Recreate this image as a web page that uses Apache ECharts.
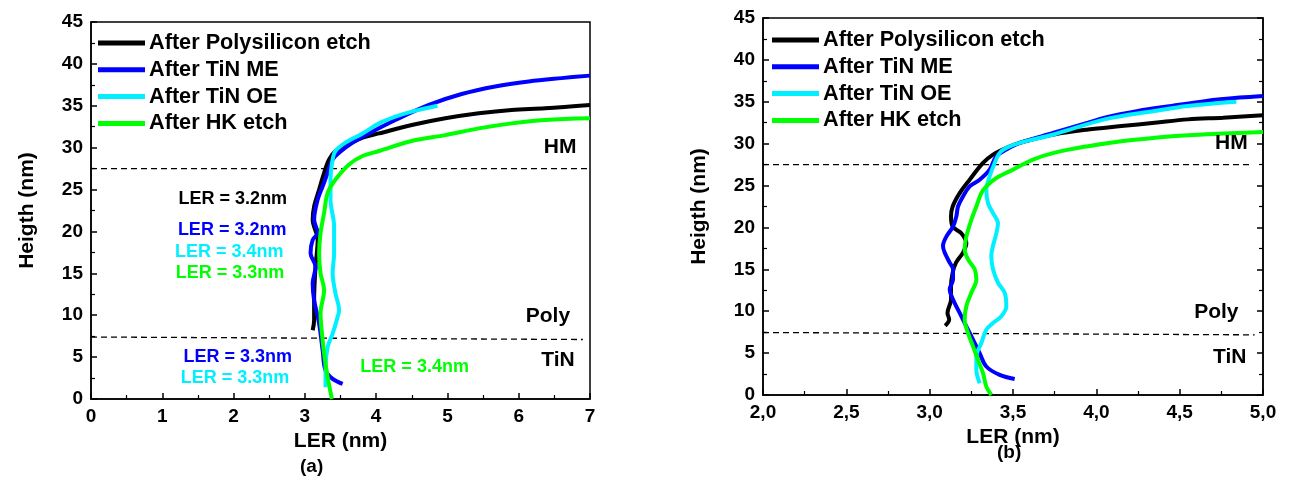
<!DOCTYPE html>
<html><head><meta charset="utf-8">
<script src="https://cdn.jsdelivr.net/npm/echarts@6/dist/echarts.min.js"></script>
<style>html,body{margin:0;padding:0;background:#fff}#c{width:1290px;height:483px}</style>
</head><body><div id="c"></div>
<script>
const seriesNames = ['After Polysilicon etch','After TiN ME','After TiN OE','After HK etch'];
const seriesColors = ['#000000','#0000FF','#00F0FF','#00FF00'];

// Panel (a)
const blackA = [[3.11,8.2],[3.13,9.4],[3.13,11.8],[3.15,15.8],[3.18,19],[3.11,21.4],[3.13,23],[3.20,25],[3.27,27],[3.34,28.6],[3.43,29.6],[3.57,30.2],[3.81,31.2],[4.04,31.7],[4.5,32.7],[4.97,33.5],[5.44,34.1],[5.9,34.5],[6.37,34.7],[7,35.1]];
const blueA = [[3.53,1.8],[3.39,2.4],[3.29,3.4],[3.25,5.8],[3.2,9],[3.13,11.8],[3.11,13.8],[3.15,15.8],[3.08,17.4],[3.11,19],[3.18,19.8],[3.13,21.4],[3.18,23.8],[3.25,25.4],[3.32,27],[3.39,28.6],[3.48,29.4],[3.67,30.6],[3.9,31.7],[4.27,33.3],[4.74,35.1],[5.2,36.4],[5.67,37.3],[6.14,37.9],[6.6,38.3],[7,38.6]];
const cyanA = [[3.29,1.4],[3.29,3.8],[3.32,6.2],[3.39,7.8],[3.46,9.8],[3.48,10.6],[3.43,12.6],[3.39,15],[3.41,17.4],[3.41,20.6],[3.36,23.8],[3.36,26.2],[3.39,28.6],[3.43,29.6],[3.57,30.6],[3.81,31.7],[4.04,32.9],[4.27,33.7],[4.5,34.3],[4.86,35]];
const greenA = [[3.38,0],[3.32,2.6],[3.27,5.4],[3.24,7.8],[3.22,10.2],[3.27,13],[3.22,15],[3.2,17.4],[3.22,19.8],[3.27,22.2],[3.32,24.6],[3.43,26.2],[3.62,28],[3.81,29],[4.04,29.6],[4.5,30.8],[4.97,31.5],[5.44,32.3],[5.9,32.9],[6.37,33.3],[7,33.5]];
const dashTopA = [[0,27.5],[7,27.5]];
const dashLowA = [[0,7.4],[6.9,7.1]];
// annotations: [x, y, text, colorIndex]
const notesA = [[1.99,23.9,'LER = 3.2nm',0],[1.98,20.2,'LER = 3.2nm',1],[1.94,17.6,'LER = 3.4nm',2],[1.95,15.0,'LER = 3.3nm',3],[2.06,5.0,'LER = 3.3nm',1],[2.02,2.5,'LER = 3.3nm',2],[4.54,3.8,'LER = 3.4nm',3]];
const regionsA = [[6.58,30,'HM'],[6.41,9.9,'Poly'],[6.55,4.6,'TiN']];
const xTicksA = ['0','1','2','3','4','5','6','7'];

// Panel (b)
const blackB = [[3.093,8.26],[3.117,9],[3.107,9.8],[3.128,11.4],[3.128,13],[3.138,14.6],[3.158,15.8],[3.2,17],[3.22,18.1],[3.19,19.3],[3.138,20.1],[3.128,21.3],[3.138,22.5],[3.18,24.1],[3.24,25.7],[3.32,27.7],[3.38,28.7],[3.46,29.5],[3.54,30.1],[3.745,31.1],[3.95,31.7],[4.15,32.1],[4.35,32.5],[4.55,32.9],[4.76,33.1],[5,33.4]];
const blueB = [[3.51,1.9],[3.42,2.4],[3.34,3.4],[3.30,5.0],[3.26,6.6],[3.22,8.2],[3.18,9.8],[3.14,11.4],[3.12,12.6],[3.14,13.8],[3.14,15],[3.12,15.8],[3.09,17],[3.08,17.8],[3.10,18.9],[3.14,20.1],[3.16,21.3],[3.17,22.5],[3.2,23.7],[3.24,24.9],[3.30,25.7],[3.36,26.9],[3.40,28.5],[3.46,29.3],[3.54,30.1],[3.745,31.3],[3.95,32.5],[4.05,33.1],[4.25,33.9],[4.45,34.5],[4.66,35.1],[4.86,35.5],[5,35.7]];
const cyanB = [[3.30,1.4],[3.28,3.0],[3.28,4.6],[3.31,6.2],[3.34,7.8],[3.38,8.6],[3.43,9.4],[3.46,10.6],[3.45,12.2],[3.41,13.4],[3.38,15.0],[3.37,16.6],[3.38,17.8],[3.40,19.3],[3.41,20.5],[3.38,21.7],[3.35,22.9],[3.34,24.5],[3.36,26.1],[3.39,27.7],[3.42,28.9],[3.46,29.5],[3.54,30.1],[3.745,31.1],[4.05,32.9],[4.35,33.9],[4.55,34.5],[4.84,35.0]];
const greenB = [[3.37,0],[3.34,1.0],[3.32,2.6],[3.29,4.2],[3.26,5.8],[3.23,7.4],[3.21,9.0],[3.22,10.6],[3.25,12.2],[3.28,13.8],[3.27,15.0],[3.23,16.2],[3.21,17.4],[3.22,18.9],[3.25,20.9],[3.28,22.5],[3.31,24.1],[3.34,24.9],[3.40,25.9],[3.50,26.9],[3.62,28.1],[3.745,28.9],[3.95,29.7],[4.15,30.3],[4.35,30.7],[4.55,31.0],[4.76,31.2],[5,31.4]];
const dashTopB = [[2,27.5],[4.92,27.5]];
const dashLowB = [[2,7.46],[4.95,7.18]];
const regionsB = [[4.81,30.1,'HM'],[4.72,9.9,'Poly'],[4.80,4.5,'TiN']];
const xTicksB = ['2,0','2,5','3,0','3,5','4,0','4,5','5,0'];
const yTicks = ['0','5','10','15','20','25','30','35','40','45'];

const FONT = 'Liberation Sans, Arial, sans-serif';
const chart = echarts.init(document.getElementById('c'));

function xAxisCfg(gi, min, max, interval, ticks, nameGap) {
  return {
    type:'value', gridIndex:gi, min:min, max:max, interval:interval,
    name:'LER (nm)', nameLocation:'middle', nameGap:nameGap,
    nameTextStyle:{fontFamily:FONT,fontWeight:'bold',fontSize:21,color:'#000'},
    axisLine:{lineStyle:{color:'#000',width:1.5}},
    axisTick:{inside:true,length:6,lineStyle:{color:'#000',width:1.5}},
    minorTick:{show:true,splitNumber:2,length:4,lineStyle:{color:'#000',width:1.2}},
    splitLine:{show:false},
    axisLabel:{fontFamily:FONT,fontWeight:'bold',fontSize:19,color:'#000',margin:8,
      formatter:function(v){const i=Math.round((v-min)/interval);return ticks[i]!==undefined?ticks[i]:'';}}
  };
}
function yAxisCfg(gi, nameGap) {
  return {
    type:'value', gridIndex:gi, min:0, max:45, interval:5,
    name:'Heigth (nm)', nameLocation:'middle', nameGap:nameGap,
    nameTextStyle:{fontFamily:FONT,fontWeight:'bold',fontSize:21,color:'#000'},
    axisLine:{lineStyle:{color:'#000',width:1.5}},
    axisTick:{inside:true,length:6,lineStyle:{color:'#000',width:1.5}},
    minorTick:{show:true,splitNumber:2,length:4,lineStyle:{color:'#000',width:1.2}},
    splitLine:{show:false},
    axisLabel:{fontFamily:FONT,fontWeight:'bold',fontSize:19,color:'#000',margin:8,
      formatter:function(v){return yTicks[Math.round(v/5)];}}
  };
}

function curve(name, color, data, gi) {
  return {type:'line', name:name, xAxisIndex:gi, yAxisIndex:gi, data:data, smooth:0.35,
    showSymbol:false, symbol:'none', lineStyle:{color:color,width:4}, itemStyle:{color:color},
    animation:false, z:3, clip:true};
}
function dash(data, gi) {
  return {type:'line', xAxisIndex:gi, yAxisIndex:gi, data:data, showSymbol:false, symbol:'none',
    lineStyle:{color:'#000',width:1.3,type:[6,4]}, silent:true, animation:false, z:2};
}
function notes(data, gi, fontSize) {
  return {type:'scatter', xAxisIndex:gi, yAxisIndex:gi, symbolSize:0, silent:true, animation:false, z:5,
    itemStyle:{opacity:1},
    data:data.map(d=>({value:[d[0],d[1]], label:{show:true, position:'inside', formatter:d[2],
      color: d[3]===undefined ? '#000' : seriesColors[d[3]], opacity:1,
      fontFamily:FONT, fontWeight:'bold', fontSize:fontSize}}))};
}

const series = [];
[[blackA,blueA,cyanA,greenA],[blackB,blueB,cyanB,greenB]].forEach((set,gi)=>{
  set.forEach((d,i)=>series.push(curve(seriesNames[i], seriesColors[i], d, gi)));
});
series.push(dash(dashTopA,0), dash(dashLowA,0), dash(dashTopB,1), dash(dashLowB,1));
series.push(notes(notesA,0,18), notes(regionsA,0,21), notes(regionsB,1,21));

const legendBase = {orient:'vertical', icon:'rect', itemWidth:47, itemHeight:5, itemGap:4.8, padding:0,
  textStyle:{fontFamily:FONT,fontWeight:'bold',fontSize:21.7,color:'#000',padding:[0,0,0,-1]},
  data:seriesNames, selectedMode:false};

chart.setOption({
  backgroundColor:'#fff',
  animation:false,
  grid:[
    {left:91, top:22, width:499, height:377, show:true, borderColor:'#000', borderWidth:1.5, backgroundColor:'transparent'},
    {left:763, top:18, width:500, height:377, show:true, borderColor:'#000', borderWidth:1.5, backgroundColor:'transparent'}
  ],
  xAxis:[xAxisCfg(0,0,7,1,xTicksA,30), xAxisCfg(1,2,5,0.5,xTicksB,26)],
  yAxis:[yAxisCfg(0,53), yAxisCfg(1,53),
    {type:'value', gridIndex:1, position:'right', min:0, max:45, interval:5,
     axisLine:{show:true,lineStyle:{color:'#000',width:1.5}}, axisLabel:{show:false},
     axisTick:{inside:true,length:6,lineStyle:{color:'#000',width:1.5}},
     minorTick:{show:true,splitNumber:2,length:4,lineStyle:{color:'#000',width:1.2}}, splitLine:{show:false}}],
  legend:[
    Object.assign({}, legendBase, {left:98, top:32}),
    Object.assign({}, legendBase, {left:772, top:29})
  ],
  graphic:[
    {type:'text', style:{text:'(a)', font:'bold 19px '+FONT, fill:'#000'}, left:300, top:457},
    {type:'text', style:{text:'(b)', font:'bold 19px '+FONT, fill:'#000'}, left:997, top:443}
  ],
  series:series
});
</script></body></html>
